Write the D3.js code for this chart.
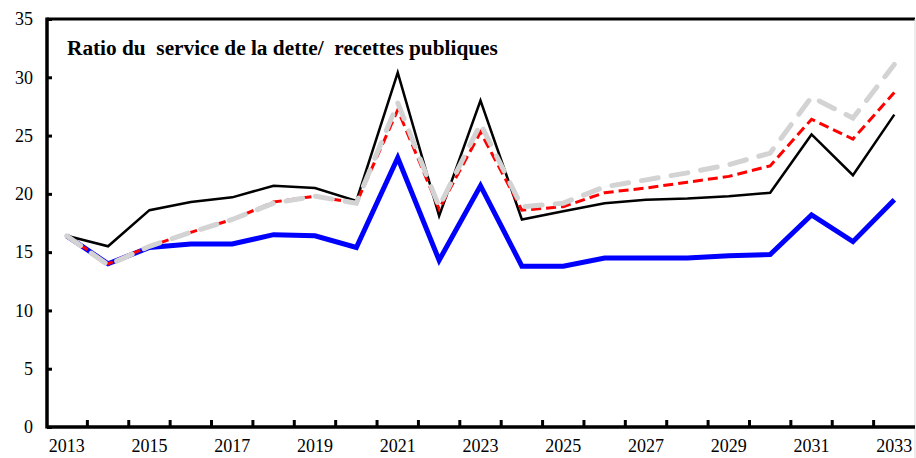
<!DOCTYPE html>
<html>
<head>
<meta charset="utf-8">
<script src="https://cdn.jsdelivr.net/npm/d3@7"></script>
<style>
  body { margin: 0; background: #fff; }
  svg text { font-family: "Liberation Serif", "Times New Roman", serif; }
</style>
</head>
<body>
<svg width="916" height="458"></svg>
<script>
var years = d3.range(2013, 2034).map(String);
var yTicks = [0, 5, 10, 15, 20, 25, 30, 35];
var title = "Ratio du  service de la dette/  recettes publiques";

// series
var baseline = [16.4, 15.5, 18.6, 19.3, 19.7, 20.7, 20.5, 19.4, 30.4, 18.1, 28.0, 17.8, 18.5, 19.2, 19.5, 19.6, 19.8, 20.1, 25.1, 21.6, 26.8];
var scenA    = [16.4, 14.0, 15.5, 16.7, 17.8, 19.3, 19.8, 19.2, 27.2, 18.7, 25.3, 18.6, 18.9, 20.1, 20.5, 21.0, 21.5, 22.4, 26.4, 24.7, 28.7];
var scenB    = [16.4, 13.9, 15.5, 16.7, 17.8, 19.2, 19.8, 19.2, 27.8, 18.9, 26.0, 18.9, 19.2, 20.6, 21.2, 21.8, 22.5, 23.5, 28.3, 26.5, 31.1];
var scenC    = [16.4, 14.0, 15.4, 15.7, 15.7, 16.5, 16.4, 15.4, 23.1, 14.3, 20.7, 13.8, 13.8, 14.5, 14.5, 14.5, 14.7, 14.8, 18.2, 15.9, 19.5];

var svg = d3.select("svg"),
    mLeft = 47, mRight = 915, mTop = 19, mBottom = 427;

var x = d3.scaleBand().domain(years).range([mLeft - 1, mRight]);
var y = d3.scaleLinear().domain([0, 35]).range([mBottom, mTop]);

// frame: black top, light grey right
svg.append("line").attr("x1", mLeft).attr("x2", mRight).attr("y1", mTop).attr("y2", mTop)
    .style("stroke", "#000").style("stroke-width", 3);
svg.append("line").attr("x1", mRight).attr("x2", mRight).attr("y1", mTop).attr("y2", 458)
    .style("stroke", "#d9d9d9").style("stroke-width", 1);

// title
svg.append("text")
    .attr("x", 67).attr("y", 55)
    .attr("xml:space", "preserve")
    .style("font-size", "21.3px").style("font-weight", "bold").style("fill", "#000")
    .text(title);

var line = d3.line()
    .x(function(d, i) { return x(years[i]) + x.bandwidth() / 2; })
    .y(function(d) { return y(d); });

var series = [
  {data: scenC, color: "#0000ff", width: 5, dash: null, cap: "butt"},
  {data: baseline, color: "#000", width: 2.5, dash: null, cap: "butt"},
  {data: scenA, color: "#ff0000", width: 3, dash: "10,5", cap: "butt"},
  {data: scenB, color: "#d3d3d3", width: 5, dash: "17,13", cap: "round"}
];

svg.append("g").selectAll("path")
    .data(series)
    .enter().append("path")
      .attr("d", function(d) { return line(d.data); })
      .style("fill", "none")
      .style("stroke", function(d) { return d.color; })
      .style("stroke-width", function(d) { return d.width; })
      .style("stroke-dasharray", function(d) { return d.dash; })
      .style("stroke-linecap", function(d) { return d.cap; })
      .style("stroke-linejoin", "miter");

// y axis
var yAxis = svg.append("g")
    .attr("transform", "translate(" + mLeft + ",0)")
    .call(d3.axisLeft(y).tickValues(yTicks).tickSize(-5).tickPadding(14));
yAxis.attr("font-family", null);
yAxis.select(".domain").remove();
yAxis.selectAll(".tick line").style("stroke", "#000").style("stroke-width", 3);
yAxis.selectAll("text").style("font-size", "18px").style("fill", "#000");
svg.append("line").attr("x1", mLeft).attr("x2", mLeft).attr("y1", mTop - 1.5).attr("y2", mBottom + 1.5)
    .style("stroke", "#000").style("stroke-width", 3.5);

// x axis: ticks between categories, labels every other year
var xg = svg.append("g").attr("transform", "translate(0," + mBottom + ")");
xg.append("line").attr("x1", mLeft).attr("x2", mRight).attr("y1", 0).attr("y2", 0)
    .style("stroke", "#000").style("stroke-width", 3.5);
xg.selectAll("line.tk")
    .data(years.slice(1))
    .enter().append("line")
      .attr("class", "tk")
      .attr("x1", function(d) { return x(d); })
      .attr("x2", function(d) { return x(d); })
      .attr("y1", 0).attr("y2", -7)
      .style("stroke", "#000").style("stroke-width", 3);
xg.selectAll("text")
    .data(years.filter(function(d, i) { return i % 2 === 0; }))
    .enter().append("text")
      .attr("x", function(d) { return x(d) + x.bandwidth() / 2; })
      .attr("y", 25)
      .style("text-anchor", "middle").style("font-size", "18px").style("fill", "#000")
      .text(function(d) { return d; });
</script>
</body>
</html>
